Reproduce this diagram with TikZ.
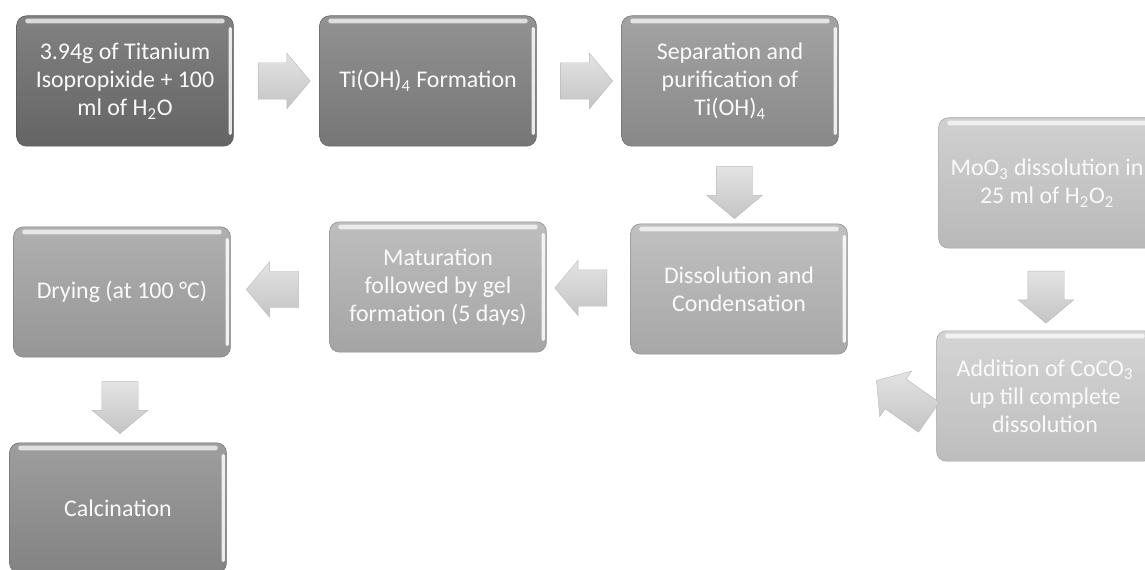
\documentclass[tikz,border=0pt]{standalone}
\usepackage{fontspec}
\setmainfont{Carlito}
\usepackage{tikz}
\usetikzlibrary{shapes.arrows, calc}

\newcommand{\boxfont}{\fontsize{17}{20}\selectfont}

% box fills, dark to light
\definecolor{shadeA}{HTML}{6D6D6D}
\definecolor{shadeB}{HTML}{808080}
\definecolor{shadeC}{HTML}{949494}
\definecolor{shadeD}{HTML}{B6B6B6}
\definecolor{shadeE}{HTML}{B3B3B3}
\definecolor{shadeF}{HTML}{A3A3A3}
\definecolor{shadeG}{HTML}{8E8E8E}
\definecolor{shadeH}{HTML}{C9C9C9}
\definecolor{shadeI}{HTML}{CECECE}

\begin{document}
\begin{tikzpicture}[x=0.025cm, y=-0.025cm,
	stepbox/.style={rounded corners=0.25cm, minimum width=5.42cm, minimum height=3.26cm,
		align=center, text=white!96!gray, font=\boxfont, inner sep=0pt,
		top color=#1!86!white, bottom color=#1!92!black, draw=#1!78!black, line width=0.4pt,
		path picture={
			\fill[white, opacity=0.7, rounded corners=1.5pt]
				([xshift=0.22cm, yshift=-0.07cm]path picture bounding box.north west) rectangle
				([xshift=-0.22cm, yshift=-0.19cm]path picture bounding box.north east);
			\fill[white, opacity=0.85, rounded corners=1pt]
				([xshift=-0.12cm, yshift=-0.28cm]path picture bounding box.north east) rectangle
				([xshift=-0.04cm, yshift=0.28cm]path picture bounding box.south east);
		}},
	flowarrow/.style={single arrow, draw=gray!55, line width=0.3pt,
		top color=gray!22, bottom color=gray!46,
		inner xsep=0pt, inner ysep=0.45cm, minimum height=1.3cm,
		single arrow head extend=0.24cm, single arrow tip angle=100}]

		\clip (0,0) rectangle (1145,570);

		% Column and row positions (pixels)
		\def\xA{125}
		\def\xB{428}
		\def\xC{730}
		\def\xD{1047}

		\def\yone{81}
		\def\ytwo{289}
		\def\ythree{508}

		% --- Top row ---
		\node[stepbox=shadeA] (tip) at (\xA, \yone) {3.94g of Titanium\\Isopropixide + 100\\ml of H\textsubscript{2}O};
		\node[stepbox=shadeB] (hyd) at (\xB, \yone) {Ti(OH)\textsubscript{4} Formation};
		\node[stepbox=shadeC] (sep) at (\xC, \yone) {Separation and\\purification of\\Ti(OH)\textsubscript{4}};

		% --- Middle row ---
		\node[stepbox=shadeD] (dis) at (\xC+9, \ytwo) {Dissolution and\\Condensation};
		\node[stepbox=shadeE] (gel) at (\xB+10, \ytwo-2) {Maturation\\followed by gel\\formation (5 days)};
		\node[stepbox=shadeF] (dry) at (\xA-3, \ytwo+3) {Drying (at 100 \textdegree C)};

		% --- Bottom ---
		\node[stepbox=shadeG] (cal) at (\xA-7, \ythree) {Calcination};

		% --- Side branch ---
		\node[stepbox=shadeH] (moo) at (\xD, 183) {MoO\textsubscript{3} dissolution in\\25 ml of H\textsubscript{2}O\textsubscript{2}};
		\node[stepbox=shadeI] (coc) at (\xD-2, 396) {Addition of CoCO\textsubscript{3}\\up till complete\\dissolution};

		% --- Block arrows ---
		\node[flowarrow] (a1) at ($(tip.east)!0.5!(hyd.west)$) {};
		\node[flowarrow] (a2) at ($(hyd.east)!0.5!(sep.west)$) {};
		\node[flowarrow, rotate=-90] (a3) at ($(sep.south)!0.5!(dis.north)$) {};
		\node[flowarrow, rotate=180] (a4) at ($(dis.west)!0.5!(gel.east)$) {};
		\node[flowarrow, rotate=180] (a5) at ($(gel.west)!0.5!(dry.east)$) {};
		\node[flowarrow, rotate=-90] (a6) at ($(dry.south)!0.5!(cal.north)$) {};
		\node[flowarrow, rotate=-90] (a7) at ($(moo.south)!0.5!(coc.north)$) {};
		\node[flowarrow, rotate=145, minimum height=1.6cm] (a8) at ($(dis.south east)!0.5!(coc.west)+(17,28)$) {};

	\end{tikzpicture}
\end{document}
